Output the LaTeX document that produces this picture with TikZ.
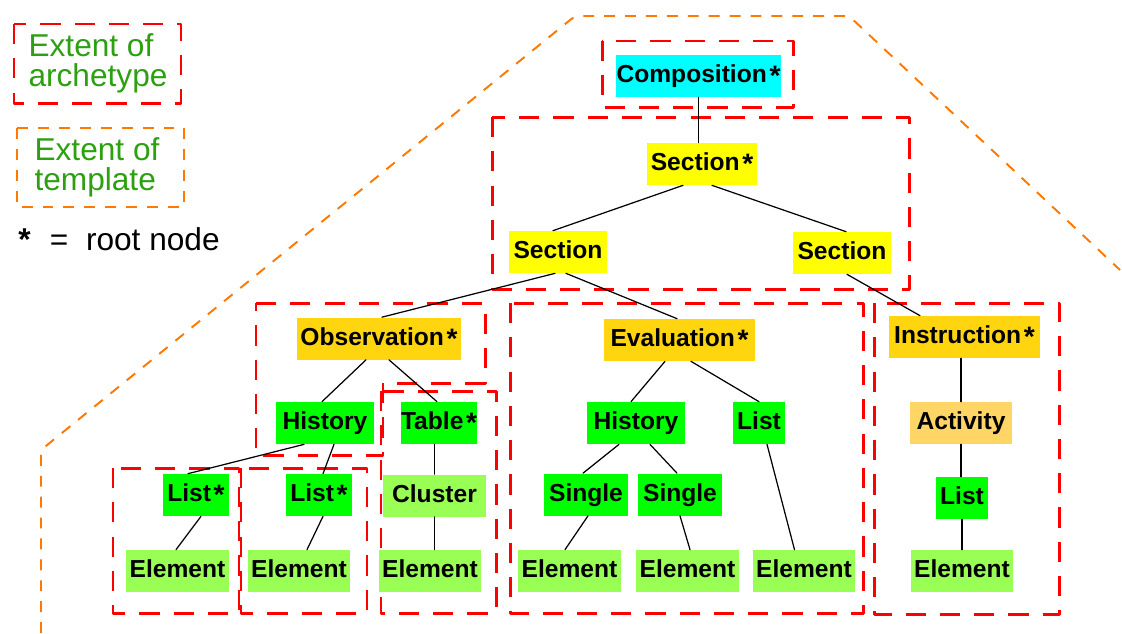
\documentclass[tikz,border=0pt]{standalone}
\usepackage{fontspec}
\setmainfont{Liberation Sans}
\usepackage{tikz}
\definecolor{qqffff}{RGB}{0,255,255}
\definecolor{ffffqq}{RGB}{255,255,0}
\definecolor{ffdzqf}{RGB}{255,213,15}
\definecolor{qqffqq}{RGB}{0,255,0}
\definecolor{ppffzz}{RGB}{153,255,85}
\definecolor{ffdzuu}{RGB}{255,213,102}
\definecolor{ecaqwq}{RGB}{44,160,16}
\definecolor{ffioqq}{RGB}{255,120,0}
\definecolor{ffqqqq}{RGB}{255,0,0}
\newcommand{\rootmark}{\hspace{1.5pt}\raisebox{-1.8pt}{\fontsize{16}{16}\selectfont *}}

\begin{document}
\begin{tikzpicture}[line cap=round,line join=round,x=0.02cm,y=-0.02cm,
    tn/.style={font=\bfseries\fontsize{14}{16}\selectfont,inner sep=0pt,minimum height=0.84cm,
      text height=10.6pt,text depth=3pt},
    comp/.style={tn,fill=qqffff},
    sect/.style={tn,fill=ffffqq},
    entry/.style={tn,fill=ffdzqf},
    struc/.style={tn,fill=qqffqq},
    elem/.style={tn,fill=ppffzz,minimum width=2.05cm},
    actv/.style={tn,fill=ffdzuu,minimum width=2.04cm},
    arch/.style={color=ffqqqq,line width=1.7pt,line cap=butt,dash pattern=on 11.5pt off 8pt},
    tmpl/.style={color=ffioqq,line width=1.1pt,line cap=butt,dash pattern=on 6.2pt off 5.7pt},
    link/.style={color=black,line width=0.7pt},
    legtext/.style={color=ecaqwq,font=\fontsize{18}{17}\selectfont,align=left,inner sep=0pt}]
  \useasboundingbox (0,0) rectangle (1122,633);

  % legend
  \draw[arch] (14,24) rectangle (181,103);
  \node[legtext] (legarch) at (98,63) {Extent of\\archetype};
  \draw[tmpl] (17,128) rectangle (184,207);
  \node[legtext] (legtmpl) at (97,167) {Extent of\\template};
  \node[anchor=base west,inner sep=0pt,font=\fontsize{18}{20}\selectfont] (legroot) at (18,250)
    {\textbf{*}\hspace{11pt}=\hspace{10pt}root node};

  % template outline
  \draw[tmpl,rounded corners=3pt] (41,633) -- (41,450) -- (575,16) -- (849,16) -- (1120,270);

  % archetype outlines
  \draw[arch] (602,41) rectangle (793,107);
  \draw[arch] (492,117) rectangle (909,289);
  \draw[arch] (256,303) -- (485,303) -- (485,383) -- (383,383) -- (383,455) -- (256,455) -- cycle;
  \draw[arch] (381,391) rectangle (496,613);
  \draw[arch] (113,468) rectangle (239,613);
  \draw[arch] (241,468) rectangle (367,613);
  \draw[arch] (510,303) rectangle (863,613);
  \draw[arch] (874,303) rectangle (1059,614);

  % nodes
  \node[comp,minimum width=3.3cm] (comp) at (698.5,76) {Composition\rootmark};
  \node[sect,minimum width=2.2cm] (secS) at (702,164) {Section\rootmark};
  \node[sect,minimum width=1.96cm] (secL) at (558,252) {Section};
  \node[sect,minimum width=1.96cm] (secR) at (842,253) {Section};
  \node[entry,minimum width=3.28cm] (obs) at (379,338.5) {Observation\rootmark};
  \node[entry,minimum width=3.02cm] (eval) at (679.5,340) {Evaluation\rootmark};
  \node[entry,minimum width=3.02cm] (instr) at (964.5,337) {Instruction\rootmark};
  \node[struc,minimum width=1.96cm] (histO) at (325,423) {History};
  \node[struc,minimum width=1.52cm] (table) at (439,423) {Table\rootmark};
  \node[struc,minimum width=1.96cm] (histE) at (636,423) {History};
  \node[struc,minimum width=1.04cm] (listE) at (759,423) {List};
  \node[actv] (act) at (961,423) {Activity};
  \node[struc,minimum width=1.32cm] (list1) at (196,495) {List\rootmark};
  \node[struc,minimum width=1.32cm] (list2) at (319,495) {List\rootmark};
  \node[elem] (clus) at (434.5,495.5) {Cluster};
  \node[struc,minimum width=1.68cm] (sing1) at (586,494.5) {Single};
  \node[struc,minimum width=1.68cm] (sing2) at (680,494.5) {Single};
  \node[struc,minimum width=1.04cm] (listI) at (962,498) {List};
  \node[elem] (elem1) at (177.5,571) {Element};
  \node[elem] (elem2) at (299,571) {Element};
  \node[elem] (elem3) at (430,571) {Element};
  \node[elem] (elemE1) at (569.5,571) {Element};
  \node[elem] (elemE2) at (687.5,571) {Element};
  \node[elem] (elemE3) at (804,571) {Element};
  \node[elem] (elemI) at (962,571) {Element};

  % links
  \draw[link] (comp.south) -- (comp.south |- secS.north);
  \draw[link] ([xshift=-0.38cm]secS.south) -- ([xshift=-0.1cm]secL.north);
  \draw[link] ([xshift=0.2cm]secS.south) -- ([xshift=0.08cm]secR.north);
  \draw[link] ([xshift=-0.06cm]secL.south) -- ([xshift=0.06cm]obs.north);
  \draw[link] ([xshift=0.16cm]secL.south) -- ([xshift=-0.05cm]eval.north);
  \draw[link] ([xshift=0.1cm]secR.south) -- ([xshift=-0.89cm]instr.north);
  \draw[link] ([xshift=-0.26cm]obs.south) -- ([xshift=-0.06cm]histO.north);
  \draw[link] ([xshift=0.2cm]obs.south) -- ([xshift=-0.04cm]table.north);
  \draw[link] ([xshift=-0.42cm]histO.south) -- ([xshift=-0.16cm]list1.north);
  \draw[link] ([xshift=0.18cm]histO.south) -- ([xshift=0.08cm]list2.north);
  \draw[link] ([xshift=0.1cm]list1.south) -- ([xshift=-0.03cm]elem1.north);
  \draw[link] ([xshift=0.08cm]list2.south) -- ([xshift=0.16cm]elem2.north);
  \draw[link] (table.south -| clus.north) -- (clus.north);
  \draw[link] (clus.south) -- (clus.south |- elem3.north);
  \draw[link] ([xshift=-0.29cm]eval.south) -- ([xshift=-0.1cm]histE.north);
  \draw[link] ([xshift=0.23cm]eval.south) -- (listE.north);
  \draw[link] ([xshift=-0.34cm]histE.south) -- ([xshift=-0.06cm]sing1.north);
  \draw[link] ([xshift=0.28cm]histE.south) -- ([xshift=-0.06cm]sing2.north);
  \draw[link] ([xshift=0.16cm]listE.south) -- ([xshift=-0.19cm]elemE3.north);
  \draw[link] ([xshift=0.04cm]sing1.south) -- ([xshift=-0.09cm]elemE1.north);
  \draw[link] (sing2.south) -- ([xshift=0.05cm]elemE2.north);
  \draw[link] (instr.south -| act.north) -- (act.north);
  \draw[link] (act.south) -- (act.south |- listI.north);
  \draw[link] (listI.south) -- (elemI.north);
\end{tikzpicture}
\end{document}
